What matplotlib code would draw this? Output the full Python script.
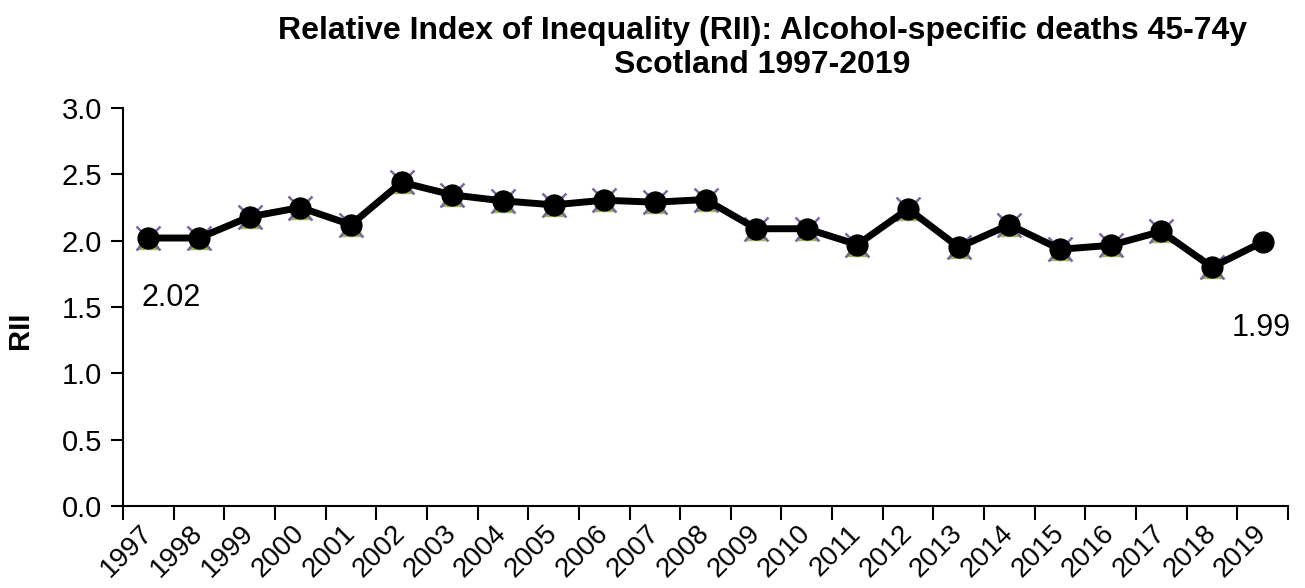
import numpy as np
import matplotlib
matplotlib.use("Agg")
import matplotlib.pyplot as plt

plt.rcParams["font.family"] = ["Liberation Sans", "DejaVu Sans"]

years = [str(y) for y in range(1997, 2020)]
rii = [2.02, 2.02, 2.18, 2.25, 2.12, 2.44, 2.345, 2.30, 2.27, 2.305, 2.29, 2.31,
       2.09, 2.09, 1.97, 2.24, 1.95, 2.12, 1.935, 1.965, 2.07, 1.80, 1.99]
# series hidden underneath the main line (only up to 2018)
rii_prev = rii[:22]
first_label = "2.02"
last_label = "1.99"

fig = plt.figure(figsize=(13.05, 5.88), dpi=100)
ax = fig.add_axes([123 / 1305, 1 - 506 / 588, (1288 - 123) / 1305, (506 - 108) / 588])

x = np.arange(len(years))
xp = np.arange(len(rii_prev))

ax.plot(xp, rii_prev, color="#4F81BD", lw=1.5, zorder=1)
ax.plot(xp, rii_prev, ls="none", marker="^", ms=16, color="#9BBB59", zorder=2)
ax.plot(xp, rii_prev, ls="none", marker="x", ms=17, mew=1.8, color="#8064A2", zorder=3)
ax.plot(x, rii, color="black", lw=5, marker="o", ms=15, zorder=5)

ax.text(0.45, 1.57, first_label, fontsize=22, ha="center", va="center")
ax.text(21.97, 1.345, last_label, fontsize=22, ha="center", va="center", clip_on=False)

ax.set_xlim(-0.5, len(years) - 0.5)
ax.set_ylim(0, 3)
ax.set_yticks(np.arange(0, 3.01, 0.5))
ax.set_yticklabels([f"{v:.1f}" for v in np.arange(0, 3.01, 0.5)], fontsize=21)
ax.tick_params(axis="y", direction="out", length=9, width=1.5, pad=6)

ax.set_xticks(x)
ax.set_xticklabels(years, fontsize=20, rotation=45, ha="right", va="center",
                   rotation_mode="anchor")
ax.tick_params(axis="x", which="major", length=0, pad=17)
ax.set_xticks(np.arange(-0.5, len(years)), minor=True)
ax.tick_params(axis="x", which="minor", direction="out", length=10, width=1.5)

for s in ["top", "right"]:
    ax.spines[s].set_visible(False)
for s in ["left", "bottom"]:
    ax.spines[s].set_linewidth(1.5)

fig.text(20 / 1305, 1 - 330 / 588, "RII", rotation=90, fontsize=21,
         fontweight="bold", ha="center", va="center")

fig.text(762 / 1305, 1 - 48 / 588,
         "Relative Index of Inequality (RII): Alcohol-specific deaths 45-74y\nScotland 1997-2019",
         ha="center", va="center", fontsize=23, fontweight="bold", linespacing=1.15)

fig.savefig("out.png", dpi=100)
